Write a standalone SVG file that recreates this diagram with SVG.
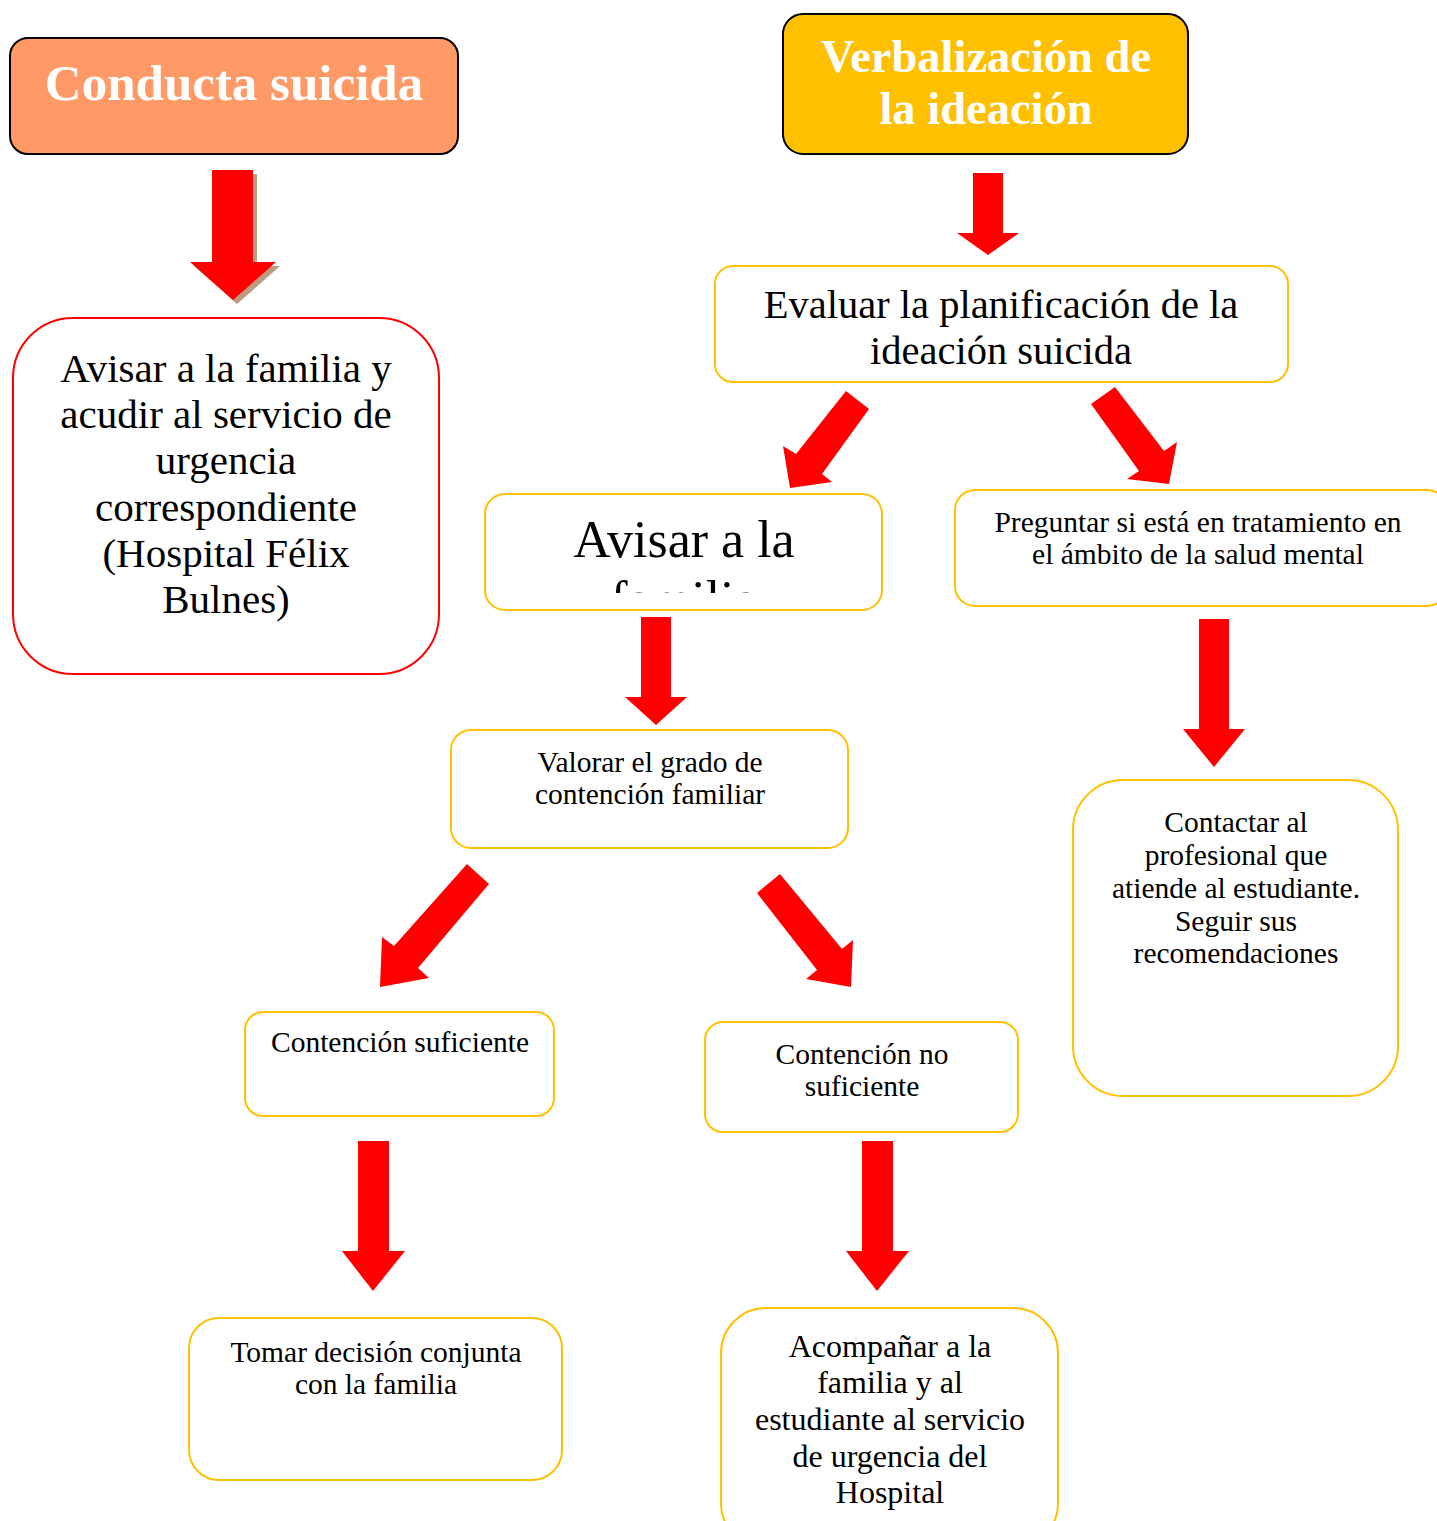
<svg xmlns="http://www.w3.org/2000/svg" width="1437" height="1521" viewBox="0 0 1437 1521">
<style>
.t{font-family:"Liberation Serif","Times New Roman",serif;fill:#000;text-anchor:middle}
.s{font-size:29.5px}
.h{font-family:"Liberation Serif","Times New Roman",serif;fill:#fff;font-weight:bold;text-anchor:middle}
.y{fill:#fff;stroke:#FFC000;stroke-width:2}
.ar{fill:#FF0000}
</style>
<defs>
<clipPath id="clipAv"><rect x="485" y="494" width="397" height="99"/></clipPath>
</defs>
<rect width="1437" height="1521" fill="#fff"/>
<g id="connectors">
<polygon points="216,174 257,174 257,266 280,266 237,304 194,266 216,266" fill="#C09A80"/>
<polygon class="ar" points="212,170 253,170 253,262 276,262 233,300 190,262 212,262"/>
<polygon class="ar" points="973,173 1003,173 1003,233 1019,233 988,255 957,233 973,233"/>
<polygon class="ar" points="846,391 869,409 822,474 832,482 790,488 783,446 796,454"/>
<polygon class="ar" points="1115,387 1164,451 1177,442 1169,484 1127,479 1139,471 1091,404"/>
<polygon class="ar" points="641,617 671,617 671,697 687,697 656,725 625,697 641,697"/>
<polygon class="ar" points="1199,619 1229,619 1229,729 1245,729 1214,767 1183,729 1199,729"/>
<polygon class="ar" points="467,864 489,884 418,968 429,978 380,987 382,937 394,946"/>
<polygon class="ar" points="780,874 842,949 853,940 851,987 806,979 817,970 757,893"/>
<polygon class="ar" points="358,1141 389,1141 389,1251 405,1251 373,1291 342,1251 358,1251"/>
<polygon class="ar" points="862,1141 893,1141 893,1251 909,1251 877,1291 846,1251 862,1251"/>
</g>
<g id="n-conducta">
<rect x="10" y="38" width="448" height="116" rx="18" fill="#FF9966" stroke="#000" stroke-width="2"/>
<text class="h" x="234" y="100" font-size="51">Conducta suicida</text>
</g>
<g id="n-verbal">
<rect x="783" y="14" width="405" height="140" rx="20" fill="#FFC000" stroke="#000" stroke-width="2"/>
<text class="h" x="986" y="72" font-size="46.5">Verbalización de</text>
<text class="h" x="986" y="124" font-size="46.5">la ideación</text>
</g>
<g id="n-avisar-urg">
<rect x="13" y="318" width="426" height="356" rx="60" fill="#fff" stroke="#FF0000" stroke-width="2"/>
<text class="t" x="226" y="382" font-size="41">Avisar a la familia y</text>
<text class="t" x="226" y="428" font-size="41">acudir al servicio de</text>
<text class="t" x="226" y="474" font-size="41">urgencia</text>
<text class="t" x="226" y="521" font-size="41">correspondiente</text>
<text class="t" x="226" y="567" font-size="41">(Hospital Félix</text>
<text class="t" x="226" y="613" font-size="41">Bulnes)</text>
</g>
<g id="n-evaluar">
<rect class="y" x="715" y="266" width="573" height="116" rx="18"/>
<text class="t" x="1001" y="318" font-size="40.5">Evaluar la planificación de la</text>
<text class="t" x="1001" y="364" font-size="40.5">ideación suicida</text>
</g>
<g id="n-avisar-fam">
<rect class="y" x="485" y="494" width="397" height="116" rx="20"/>
<g clip-path="url(#clipAv)">
<text class="t" x="684" y="557" font-size="52">Avisar a la</text>
<text class="t" x="684" y="617" font-size="52">familia</text>
</g>
</g>
<g id="n-preguntar">
<rect class="y" x="955" y="490" width="492" height="116" rx="20"/>
<text class="t s" x="1198" y="532">Preguntar si está en tratamiento en</text>
<text class="t s" x="1198" y="564">el ámbito de la salud mental</text>
</g>
<g id="n-valorar">
<rect class="y" x="451" y="730" width="397" height="118" rx="20"/>
<text class="t s" x="650" y="772">Valorar el grado de</text>
<text class="t s" x="650" y="804">contención familiar</text>
</g>
<g id="n-contactar">
<rect class="y" x="1073" y="780" width="325" height="316" rx="50"/>
<text class="t s" x="1236" y="832">Contactar al</text>
<text class="t s" x="1236" y="865">profesional que</text>
<text class="t s" x="1236" y="898">atiende al estudiante.</text>
<text class="t s" x="1236" y="931">Seguir sus</text>
<text class="t s" x="1236" y="963">recomendaciones</text>
</g>
<g id="n-suficiente">
<rect class="y" x="245" y="1012" width="309" height="104" rx="18"/>
<text class="t s" x="400" y="1052">Contención suficiente</text>
</g>
<g id="n-nosuficiente">
<rect class="y" x="705" y="1022" width="313" height="110" rx="18"/>
<text class="t s" x="862" y="1064">Contención no</text>
<text class="t s" x="862" y="1096">suficiente</text>
</g>
<g id="n-tomar">
<rect class="y" x="189" y="1318" width="373" height="162" rx="30"/>
<text class="t s" x="376" y="1362">Tomar decisión conjunta</text>
<text class="t s" x="376" y="1394">con la familia</text>
</g>
<g id="n-acompanar">
<rect class="y" x="721" y="1308" width="337" height="240" rx="45"/>
<text class="t" x="890" y="1357" font-size="32">Acompañar a la</text>
<text class="t" x="890" y="1393" font-size="32">familia y al</text>
<text class="t" x="890" y="1430" font-size="32">estudiante al servicio</text>
<text class="t" x="890" y="1467" font-size="32">de urgencia del</text>
<text class="t" x="890" y="1503" font-size="32">Hospital</text>
</g>
</svg>
